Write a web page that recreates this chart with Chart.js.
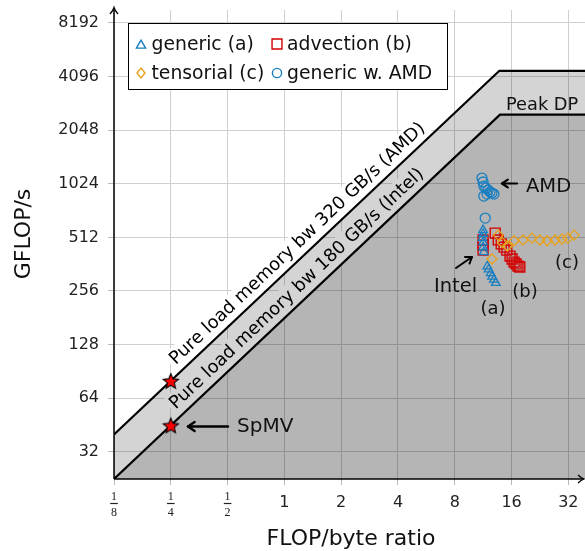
<!DOCTYPE html>
<html><head><meta charset="utf-8">
<script src="https://cdn.jsdelivr.net/npm/chart.js@4.4.1/dist/chart.umd.min.js"></script>
<style>html,body{margin:0;padding:0;background:#fff;overflow:hidden}canvas{display:block}</style>
</head><body>
<canvas id="c" width="585" height="551"></canvas>
<script>
// ---------- data ----------
const xTicks = [0.125, 0.25, 0.5, 1, 2, 4, 8, 16, 32];
const xTickLabels = ['1/8', '1/4', '1/2', '1', '2', '4', '8', '16', '32'];
const yTicks = [32, 64, 128, 256, 512, 1024, 2048, 4096, 8192];
const yTickLabels = ['32', '64', '128', '256', '512', '1024', '2048', '4096', '8192'];

const machines = ['AMD', 'Intel'];
const bandwidthGBs = [320, 180];
const peakGflops = [4410, 2500];

const genericA_x = [11.3, 11.3, 11.2, 11.3, 11.3, 11.4, 11.9, 12.1, 12.4, 12.6, 12.9, 13.2];
const genericA_y = [562, 535, 507, 480, 450, 423, 352, 338, 322, 308, 296, 284];

const advectionB_x = [13.1, 11.3, 11.3, 11.3, 13.6, 14.1, 14.6, 15.1, 15.7, 16.1, 16.5, 16.9, 17.3, 17.7];
const advectionB_y = [541, 495, 463, 434, 495, 470, 451, 434, 402, 387, 372, 363, 353, 349];

const tensorialC_x = [12.6, 13.6, 14.3, 15.2, 16.5, 18.4, 20.5, 22.6, 24.7, 27.2, 29.6, 31.8, 34.3];
const tensorialC_y = [387, 527, 478, 458, 490, 495, 507, 495, 490, 495, 501, 507, 527];

const genericAMD_x = [11.15, 11.3, 11.4, 11.7, 12.0, 12.3, 12.6, 12.9, 11.4, 11.85, 11.6];
const genericAMD_y = [1102, 1047, 994, 969, 944, 920, 908, 896, 873, 896, 657];

const spmv_x = [0.25, 0.25];
const spmv_y = [80, 45];

const xMinV = 0.125, xMaxV = 39.2, yMinV = 22.5, yMaxV = 9683;

// ---------- style ----------
const FONT = "'DejaVu Sans', sans-serif";
const BLUE = '#1a7fc1', RED = '#d40000', ORANGE = '#e9a11a';

function pts(xs, ys) { return xs.map((x, i) => ({ x: x, y: ys[i] })); }
function roof(i) {
  const bw = bandwidthGBs[i], pk = peakGflops[i];
  return [{ x: xMinV, y: bw * xMinV }, { x: pk / bw, y: pk }, { x: xMaxV, y: pk }];
}
function makeStar(r) {
  const c = document.createElement('canvas');
  const s = Math.ceil(r * 2 + 4);
  c.width = c.height = s;
  const g = c.getContext('2d');
  g.translate(s / 2, s / 2 + 0.8);
  g.beginPath();
  for (let k = 0; k < 10; k++) {
    const rr = k % 2 ? r * 0.45 : r;
    const a = -Math.PI / 2 + k * Math.PI / 5;
    g.lineTo(rr * Math.cos(a), rr * Math.sin(a));
  }
  g.closePath();
  g.fillStyle = '#f00'; g.fill();
  g.lineWidth = 1.1; g.strokeStyle = '#000'; g.stroke();
  return c;
}

function arrow(ctx, x1, y1, x2, y2, lw, head) {
  ctx.save();
  ctx.strokeStyle = '#000'; ctx.lineWidth = lw; ctx.lineCap = 'round'; ctx.lineJoin = 'round';
  ctx.beginPath(); ctx.moveTo(x1, y1); ctx.lineTo(x2, y2); ctx.stroke();
  const a = Math.atan2(y2 - y1, x2 - x1);
  ctx.beginPath();
  ctx.moveTo(x2 - head * Math.cos(a - 0.6), y2 - head * Math.sin(a - 0.6));
  ctx.lineTo(x2, y2);
  ctx.lineTo(x2 - head * Math.cos(a + 0.6), y2 - head * Math.sin(a + 0.6));
  ctx.stroke();
  ctx.restore();
}

function lineLabel(chart, i, xStart, text) {
  const ctx = chart.ctx, xs = chart.scales.x, ys = chart.scales.y;
  const bw = bandwidthGBs[i];
  const x0 = xs.getPixelForValue(xStart), y0 = ys.getPixelForValue(bw * xStart);
  const x1 = xs.getPixelForValue(xStart * 4), y1 = ys.getPixelForValue(bw * xStart * 4);
  const ang = Math.atan2(y1 - y0, x1 - x0);
  ctx.save();
  ctx.translate(x0, y0); ctx.rotate(ang);
  ctx.font = '17.9px ' + FONT;
  const w = ctx.measureText(text).width;
  const off = 8;
  ctx.fillStyle = '#fff';
  ctx.fillRect(-3, -off - 16, w + 6, off + 16 - 1.5);
  ctx.fillStyle = '#000'; ctx.textAlign = 'left'; ctx.textBaseline = 'alphabetic';
  ctx.fillText(text, 0, -off);
  ctx.restore();
}

function drawMarker(ctx, style, x, y, r, color) {
  ctx.save();
  ctx.strokeStyle = color; ctx.lineWidth = 1.4;
  ctx.beginPath();
  if (style === 'triangle') {
    let a = 0;
    ctx.moveTo(x + Math.sin(a) * r, y - Math.cos(a) * r);
    a += 2 * Math.PI / 3; ctx.lineTo(x + Math.sin(a) * r, y - Math.cos(a) * r);
    a += 2 * Math.PI / 3; ctx.lineTo(x + Math.sin(a) * r, y - Math.cos(a) * r);
    ctx.closePath();
  } else if (style === 'rect') {
    const s = r * Math.SQRT1_2; ctx.rect(x - s, y - s, 2 * s, 2 * s);
  } else if (style === 'rectRot') {
    ctx.moveTo(x, y - r); ctx.lineTo(x + r * 0.8, y); ctx.lineTo(x, y + r); ctx.lineTo(x - r * 0.8, y); ctx.closePath();
  } else {
    ctx.arc(x, y, r, 0, Math.PI * 2);
  }
  ctx.stroke();
  ctx.restore();
}

const decor = {
  id: 'decor',
  beforeDatasetsDraw(chart) {
    lineLabel(chart, 0, 0.284, 'Pure load memory bw 320 GB/s (AMD)');
    lineLabel(chart, 1, 0.284, 'Pure load memory bw 180 GB/s (Intel)');
  },
  afterDatasetsDraw(chart) {
    const ctx = chart.ctx, ca = chart.chartArea, xs = chart.scales.x;
    // axes with arrows
    ctx.save();
    ctx.strokeStyle = '#000'; ctx.lineWidth = 1.5;
    ctx.beginPath(); ctx.moveTo(ca.left, ca.bottom); ctx.lineTo(583.5, ca.bottom); ctx.stroke();
    ctx.beginPath(); ctx.moveTo(ca.left, ca.bottom); ctx.lineTo(ca.left, 8); ctx.stroke();
    ctx.lineWidth = 1.3;
    ctx.beginPath(); ctx.moveTo(578, ca.bottom - 4); ctx.quadraticCurveTo(581, ca.bottom - 1, 584, ca.bottom);
    ctx.quadraticCurveTo(581, ca.bottom + 1, 578, ca.bottom + 4); ctx.stroke();
    ctx.beginPath(); ctx.moveTo(ca.left - 4, 14); ctx.quadraticCurveTo(ca.left - 1, 11, ca.left, 7.5);
    ctx.quadraticCurveTo(ca.left + 1, 11, ca.left + 4, 14); ctx.stroke();
    ctx.restore();

    // x tick labels (integers and stacked fractions)
    ctx.save();
    ctx.fillStyle = '#222'; ctx.strokeStyle = '#222';
    ctx.textAlign = 'center'; ctx.textBaseline = 'middle';
    xTicks.forEach((v, i) => {
      const lab = xTickLabels[i];
      const px = xs.getPixelForValue(v);
      if (lab.indexOf('/') < 0) {
        ctx.font = '16px ' + FONT;
        ctx.fillText(lab, px, 503);
        return;
      }
      const [n, d] = lab.split('/');
      ctx.font = "12px 'Liberation Serif', serif";
      ctx.fillText(n, px, 497);
      ctx.fillText(d, px, 512.5);
      ctx.lineWidth = 1.2;
      ctx.beginPath(); ctx.moveTo(px - 3.8, 503.5); ctx.lineTo(px + 3.8, 503.5); ctx.stroke();
    });
    ctx.restore();

    // axis titles
    ctx.save();
    ctx.fillStyle = '#111'; ctx.font = '22px ' + FONT;
    ctx.textAlign = 'center'; ctx.textBaseline = 'alphabetic';
    ctx.fillText('FLOP/byte ratio', 351, 545);
    ctx.translate(30, 234); ctx.rotate(-Math.PI / 2);
    ctx.fillText('GFLOP/s', 0, 0);
    ctx.restore();

    // annotations
    ctx.save();
    ctx.fillStyle = '#111'; ctx.textBaseline = 'alphabetic'; ctx.textAlign = 'left';
    ctx.font = '17.8px ' + FONT;
    ctx.fillText('Peak DP', 506, 110);
    ctx.font = '19.5px ' + FONT;
    ctx.fillText('AMD', 526, 192);
    ctx.fillText('Intel', 434, 292);
    ctx.font = '18px ' + FONT;
    ctx.textAlign = 'center';
    ctx.fillText('(a)', 493, 314);
    ctx.fillText('(b)', 525, 297);
    ctx.fillText('(c)', 567, 268);
    ctx.textAlign = 'left';
    ctx.font = '20px ' + FONT;
    ctx.fillText('SpMV', 237, 432);
    ctx.restore();
    arrow(ctx, 517, 183.5, 502, 183.5, 2.2, 7);
    arrow(ctx, 456, 268, 472, 257, 2, 7);
    arrow(ctx, 228, 426.5, 188, 426.5, 2.4, 8);

    // legend
    ctx.save();
    ctx.fillStyle = '#fff'; ctx.fillRect(128, 23, 319, 66);
    ctx.strokeStyle = '#000'; ctx.lineWidth = 1; ctx.strokeRect(128.5, 23.5, 319, 66);
    const ents = [
      [0, 141, 151.5, 44, 'triangle', 5.3],
      [1, 277, 287, 44, 'rect', 7],
      [2, 141, 151.5, 73, 'rectRot', 5],
      [3, 277, 287, 73, 'circle', 4.6]
    ];
    ctx.font = '18.8px ' + FONT; ctx.textAlign = 'left'; ctx.textBaseline = 'middle';
    ents.forEach(e => {
      const ds = chart.data.datasets[e[0]];
      drawMarker(ctx, e[4], e[1], e[3] + (e[4] === 'triangle' ? 1.5 : 0), e[5], ds.borderColor);
      ctx.fillStyle = '#111';
      ctx.fillText(ds.label, e[2], e[3] + 1);
    });
    ctx.restore();
  }
};

const starImg = makeStar(8);

new Chart(document.getElementById('c'), {
  type: 'scatter',
  data: {
    datasets: [
      { label: 'generic (a)', data: pts(genericA_x, genericA_y), pointStyle: 'triangle', pointRadius: 5, borderColor: BLUE, backgroundColor: 'rgba(0,0,0,0)', borderWidth: 1.3, order: 1 },
      { label: 'advection (b)', data: pts(advectionB_x, advectionB_y), pointStyle: 'rect', pointRadius: 7, borderColor: RED, backgroundColor: 'rgba(0,0,0,0)', borderWidth: 1.4, order: 2 },
      { label: 'tensorial (c)', data: pts(tensorialC_x, tensorialC_y), pointStyle: 'rectRot', pointRadius: 5, borderColor: ORANGE, backgroundColor: 'rgba(0,0,0,0)', borderWidth: 1.3, order: 0 },
      { label: 'generic w. AMD', data: pts(genericAMD_x, genericAMD_y), pointStyle: 'circle', pointRadius: 5, borderColor: BLUE, backgroundColor: 'rgba(0,0,0,0)', borderWidth: 1.3, order: 1 },
      { label: 'SpMV', data: pts(spmv_x, spmv_y), pointStyle: starImg, pointRadius: 8, borderColor: '#000', backgroundColor: '#f00', order: 0 },
      { type: 'line', label: machines[0] + ' roofline', data: roof(0), borderColor: '#000', borderWidth: 2.2, pointRadius: 0, tension: 0, fill: 'start', backgroundColor: 'rgba(0,0,0,0.17)', order: 10 },
      { type: 'line', label: machines[1] + ' roofline', data: roof(1), borderColor: '#000', borderWidth: 2.2, pointRadius: 0, tension: 0, fill: 'start', backgroundColor: 'rgba(0,0,0,0.15)', order: 9 }
    ]
  },
  options: {
    responsive: false, animation: false, devicePixelRatio: 1,
    layout: { autoPadding: false, padding: { top: 10, right: 0, left: 0, bottom: 0 } },
    plugins: { legend: { display: false }, tooltip: { enabled: false }, title: { display: false } },
    scales: {
      x: {
        type: 'logarithmic', position: 'bottom', min: xMinV, max: xMaxV,
        afterBuildTicks: s => { s.ticks = xTicks.map(v => ({ value: v })); },
        afterFit: s => { s.height = 72; s.paddingLeft = 0; s.paddingRight = 0; },
        ticks: { display: false, autoSkip: false, maxRotation: 0, minRotation: 0 },
        grid: { color: '#cfcfcf', lineWidth: 1, tickLength: 6, tickColor: '#b8b8b8' },
        border: { display: false }
      },
      y: {
        type: 'logarithmic', position: 'left', min: yMinV, max: yMaxV,
        afterBuildTicks: s => { s.ticks = yTicks.map(v => ({ value: v })); },
        afterFit: s => { s.width = 114; s.paddingTop = 0; s.paddingBottom = 0; },
        ticks: {
          autoSkip: false, padding: 9, color: '#222',
          font: { family: FONT, size: 16 },
          callback: v => { const i = yTicks.indexOf(v); return i >= 0 ? yTickLabels[i] : ''; }
        },
        grid: { color: '#cfcfcf', lineWidth: 1, tickLength: 6, tickColor: '#b8b8b8' },
        border: { display: false }
      }
    }
  },
  plugins: [decor]
});
</script>
</body></html>
